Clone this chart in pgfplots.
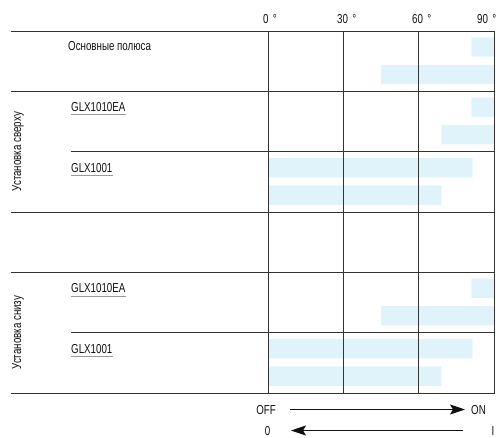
\documentclass[border=0pt]{standalone}
\usepackage{fontspec}
\setmainfont{Liberation Sans}[FakeStretch=0.75]
\usepackage{pgfplots}
\usepackage{pgfplotstable}
\pgfplotsset{compat=1.18}
\usetikzlibrary{arrows.meta}
\definecolor{barblue}{HTML}{E0F2FA}
\definecolor{rulec}{HTML}{333333}
\definecolor{txt}{HTML}{111111}
\definecolor{ulc}{HTML}{999999}
\newcommand\lbl{\fontsize{13bp}{15bp}\selectfont\color{txt}}

% y = row position (row 0 at top), start = first angle, len = angular length
\pgfplotstableread{
y     start len
0.265 81    9
0.72  45    45
1.265 81    9
1.72  69    21
2.265 0     81.5
2.72  0     69
4.265 81    9
4.72  45    45
5.265 0     81.5
5.72  0     69
}\bars

\begin{document}
\begin{tikzpicture}
\useasboundingbox (0,0) rectangle (504bp,-438bp);
\begin{axis}[
  at={(268bp,-393bp)}, anchor=south west,
  width=226bp, height=362bp, scale only axis,
  xmin=0, xmax=90, ymin=0, ymax=6, y dir=reverse,
  xbar stacked, bar width=0.32,
  xtick={0,30,60,90}, xticklabels={}, ytick=\empty,
  major tick length=0pt,
  xmajorgrids, grid style={rulec, line width=0.9bp},
  axis line style={rulec, line width=0.9bp},
  axis on top, clip=false,
]
\addplot[draw=none, fill=none] table[x=start, y=y]{\bars};
\addplot[draw=none, fill=barblue] table[x=len, y=y]{\bars};
\end{axis}

% horizontal rules
\foreach \k in {0,1,3,4,6}
  \draw[rulec, line width=0.9bp] (11bp,{-31bp-60.333bp*\k}) -- (494bp,{-31bp-60.333bp*\k});
\foreach \k in {2,5}
  \draw[rulec, line width=0.9bp] (71bp,{-31bp-60.333bp*\k}) -- (494bp,{-31bp-60.333bp*\k});

% top degree labels
\node[anchor=base west, inner sep=0] at (263bp,-23bp) {\lbl 0\,\,°};
\node[anchor=base west, inner sep=0] at (337bp,-23bp) {\lbl 30\,\,°};
\node[anchor=base west, inner sep=0] at (412bp,-23bp) {\lbl 60\,\,°};
\node[anchor=base west, inner sep=0] at (477bp,-23bp) {\lbl 90\,\,°};

% row labels
\node[anchor=base west, inner sep=0] at (68bp,-50bp) {\lbl Основные полюса};
\foreach \yy/\t in {111/GLX1010EA, 172/GLX1001, 292.5/GLX1010EA, 353/GLX1001} {
  \node[anchor=base west, inner sep=0] (n) at (71bp,-\yy bp) {\lbl \t};
  \draw[ulc, line width=1bp] ([yshift=-3.5bp]n.base west) -- ([yshift=-3.5bp]n.base east);
}

% group labels
\node[rotate=90, inner sep=0] at (18bp,-151.67bp) {\lbl Установка сверху};
\node[rotate=90, inner sep=0] at (18bp,-332.67bp) {\lbl Установка снизу};

% OFF/ON arrows
\node[anchor=base east, inner sep=0] at (276bp,-414bp) {\lbl OFF};
\node[anchor=base west, inner sep=0] at (471bp,-414bp) {\lbl ON};
\draw[txt, line width=1.2bp, -{Stealth[length=15bp, width=10bp, inset=3bp]}] (290bp,-409.5bp) -- (465bp,-409.5bp);
\node[anchor=base, inner sep=0] at (267.5bp,-435bp) {\lbl 0};
\node[anchor=base, inner sep=0] at (493bp,-435bp) {\lbl I};
\draw[txt, line width=1.2bp, -{Stealth[length=15bp, width=10bp, inset=3bp]}] (463bp,-430.5bp) -- (291bp,-430.5bp);
\end{tikzpicture}
\end{document}
